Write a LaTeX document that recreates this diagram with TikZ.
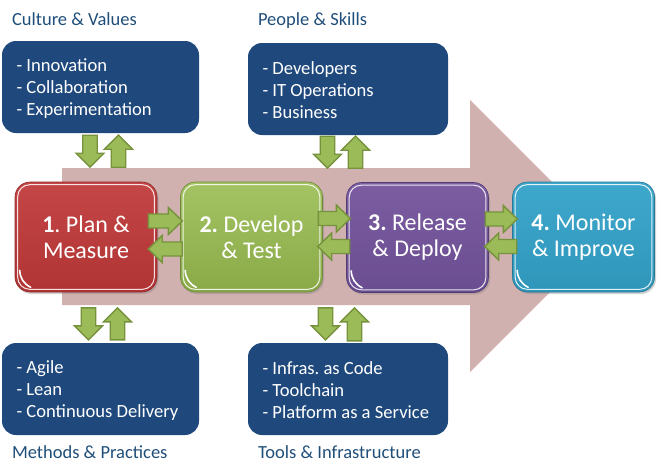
\documentclass[tikz,border=0pt]{standalone}
\usepackage{fontspec}
\setmainfont{Carlito}
\usetikzlibrary{calc,shadows}

\definecolor{navy}{HTML}{1F497D}
\definecolor{titleblue}{HTML}{1F4E79}
\definecolor{flowpink}{HTML}{D0B1AF}
\definecolor{gfill}{HTML}{9BBB59}
\definecolor{gline}{HTML}{76923C}
\definecolor{redtop}{HTML}{C44646}
\definecolor{redbot}{HTML}{B13434}
\definecolor{greentop}{HTML}{A4C464}
\definecolor{greenbot}{HTML}{8AAA48}
\definecolor{purpletop}{HTML}{7C5DA2}
\definecolor{purplebot}{HTML}{6A4C90}
\definecolor{bluetop}{HTML}{3EA8CC}
\definecolor{bluebot}{HTML}{2F96BA}

\frenchspacing

\tikzset{
  infobox/.style={fill=navy, rounded corners=14pt, minimum height=92pt,
    minimum width=#1},
  boxtext/.style={anchor=west, align=left, text=white, inner sep=0pt,
    font=\fontsize{18.6}{22}\selectfont},
  stepbox/.style n args={2}{rounded corners=15pt, minimum width=142pt,
    minimum height=110pt, align=center, text=white,
    top color=#1, bottom color=#2, draw=#2!80!black, line width=0.6pt,
    drop shadow={shadow xshift=1.5pt, shadow yshift=-2pt, opacity=0.35},
    font=\fontsize{24}{26}\selectfont},
  gloss/.style={draw=white, line width=1pt, rounded corners=12pt, opacity=0.85},
  shine/.style={draw=white, line width=1.6pt, line cap=round},
  heading/.style={anchor=west, text=titleblue, font=\fontsize{18.5}{20}\selectfont},
  pics/barrow/.style n args={2}{code={
    \path[fill=gfill, draw=gline, line width=1.4pt, line join=miter]
      (0,-0.26*#2) -- (#1-14,-0.26*#2) -- (#1-14,-#2/2) -- (#1,0)
      -- (#1-14,#2/2) -- (#1-14,0.26*#2) -- (0,0.26*#2) -- cycle;
  }}
}

\begin{document}
\begin{tikzpicture}[x=1pt,y=-1pt]
  \useasboundingbox (0,0) rectangle (661,474);

  % broad flow arrow behind the four stages
  \fill[flowpink] (62,168) -- (470,168) -- (470,100) -- (606,236)
    -- (470,372) -- (470,305) -- (62,305) -- cycle;

  % headings
  \node[heading] (hcv) at (8.5,19) {Culture \& Values};
  \node[heading] (hps) at (254.5,21) {People \& Skills};
  \node[heading] (hmp) at (8.5,452) {Methods \& Practices};
  \node[heading] (hti) at (254.5,452) {Tools \& Infrastructure};

  % the four dimensions
  \node[infobox=197pt] (cv) at (100.5,87) {};
  \node[infobox=200pt] (ps) at (348,89) {};
  \node[infobox=197pt] (mp) at (100.5,389) {};
  \node[infobox=200pt] (ti) at (348,389) {};
  \node[boxtext] (cvt) at ([xshift=14.5pt,yshift=-1.5pt]cv.west) {- Innovation\\- Collaboration\\- Experimentation};
  \node[boxtext] (pst) at ([xshift=14.5pt,yshift=-1.5pt]ps.west) {- Developers\\- IT Operations\\- Business};
  \node[boxtext] (mpt) at ([xshift=14.5pt,yshift=-1.5pt]mp.west) {- Agile\\- Lean\\- Continuous Delivery};
  \node[boxtext] (tit) at ([xshift=14.5pt,yshift=-1.5pt]ti.west) {- Infras. as Code\\- Toolchain\\- Platform as a Service};

  % the four stages
  \node[stepbox={redtop}{redbot}] (plan) at (86,237) {\textbf{1}. Plan \&\\Measure};
  \node[stepbox={greentop}{greenbot}] (dev) at (251.5,237) {\textbf{2.} Develop\\\& Test};
  \node[stepbox={purpletop}{purplebot}] (rel) at (417.5,237.5) {\textbf{3.} Release\\\& Deploy};
  \node[stepbox={bluetop}{bluebot}] (mon) at (583.5,237) {\textbf{4.} Monitor\\\& Improve};

  % glossy rims and corner highlights
  \foreach \s in {plan,dev,rel,mon}{
    \draw[gloss] ([shift={(3,3)}]\s.north west) rectangle ([shift={(-3,-3)}]\s.south east);
    \draw[shine] ([shift={(5,-22)}]\s.south west) to[bend right=30] ([shift={(16,-5)}]\s.south west);
  }

  % exchanges between dimensions and the flow
  \pic[rotate=-90] at ([shift={(-10.5,2)}]cv.south) {barrow={32}{28}};
  \pic[rotate=90]  at ([shift={(18,34)}]cv.south) {barrow={32}{28}};
  \pic[rotate=-90] at ([shift={(-20.5,1)}]ps.south) {barrow={32}{28}};
  \pic[rotate=90]  at ([shift={(7.5,33)}]ps.south) {barrow={32}{28}};
  \pic[rotate=-90] at ([shift={(-12,-35)}]mp.north) {barrow={32}{28}};
  \pic[rotate=90]  at ([shift={(17,-3)}]mp.north) {barrow={32}{28}};
  \pic[rotate=-90] at ([shift={(-22.5,-35)}]ti.north) {barrow={32}{28}};
  \pic[rotate=90]  at ([shift={(6.5,-2)}]ti.north) {barrow={33}{28}};

  % exchanges between neighbouring stages
  \pic at ([shift={(-9,-16)}]plan.east) {barrow={34}{27}};
  \pic[rotate=180] at ([shift={(2,12)}]dev.west) {barrow={34}{27}};
  \pic at ([shift={(-4.5,-18.5)}]dev.east) {barrow={32}{27}};
  \pic[rotate=180] at ([shift={(3.5,9)}]rel.west) {barrow={32}{27}};
  \pic at ([shift={(-3.5,-18.5)}]rel.east) {barrow={32}{27}};
  \pic[rotate=180] at ([shift={(4.5,9.5)}]mon.west) {barrow={32}{27}};
\end{tikzpicture}
\end{document}
